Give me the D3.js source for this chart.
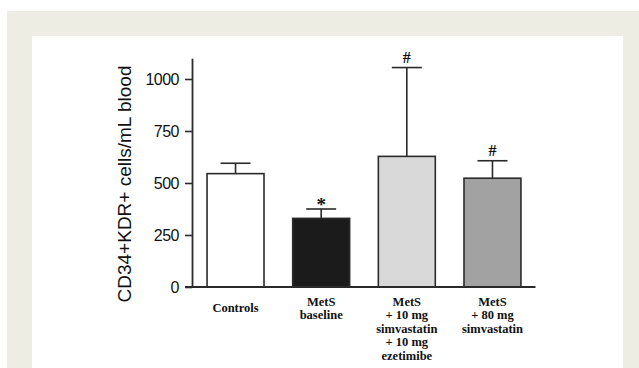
<!DOCTYPE html>
<html>
<head>
<meta charset="utf-8">
<script src="https://cdn.jsdelivr.net/npm/d3@7"></script>
<style>
  body { margin: 0; background: #fff; }
  svg { display: block; }
</style>
</head>
<body>
<svg id="chart" width="639" height="368"></svg>
<script>
// ---------- dades ----------
var grups = ["Controls", "MetS baseline", "MetS simva10 eze10", "MetS simva80"];
var etiquetes = [
    ["Controls"],
    ["MetS", "baseline"],
    ["MetS", "+ 10 mg", "simvastatin", "+ 10 mg", "ezetimibe"],
    ["MetS", "+ 80 mg", "simvastatin"]
];
var mitjanes = [545, 330, 628, 523];
var errors = [50, 45, 427, 84];
var signes = ["", "*", "#", "#"];
var colors = ["#ffffff", "#1b1b1b", "#d9d9d9", "#a2a2a2"];
var ticksY = [0, 250, 500, 750, 1000];

// ---------- fons ----------
var svg = d3.select("#chart");
svg.append("rect").attr("x", 7).attr("y", 11).attr("width", 632).attr("height", 357).style("fill", "#eeede3");
svg.append("rect").attr("x", 32).attr("y", 36).attr("width", 591).attr("height", 332).style("fill", "#ffffff");

// ---------- escales ----------
var x = d3.scaleBand().domain(grups).range([192.5, 535.5]).paddingInner(0.335).paddingOuter(0.17);
var y = d3.scaleLinear().domain([0, 1100]).range([287, 58.2]);
var tinta = "#2a2a2a";

// barres
svg.selectAll("rect.barra").data(grups).enter().append("rect")
    .attr("class", "barra")
    .attr("x", d => x(d))
    .attr("y", (d, i) => y(mitjanes[i]))
    .attr("width", x.bandwidth())
    .attr("height", (d, i) => y(0) - y(mitjanes[i]))
    .style("fill", (d, i) => colors[i])
    .style("stroke", tinta)
    .style("stroke-width", 1.6);

// barres d'error
var err = svg.selectAll("g.err").data(grups).enter().append("g").attr("class", "err");
err.append("line")
    .attr("x1", d => x(d) + x.bandwidth() / 2)
    .attr("x2", d => x(d) + x.bandwidth() / 2)
    .attr("y1", (d, i) => y(mitjanes[i]))
    .attr("y2", (d, i) => y(mitjanes[i] + errors[i]))
    .style("stroke", tinta).style("stroke-width", 1.6);
err.append("line")
    .attr("x1", d => x(d) + x.bandwidth() / 2 - 15)
    .attr("x2", d => x(d) + x.bandwidth() / 2 + 15)
    .attr("y1", (d, i) => y(mitjanes[i] + errors[i]))
    .attr("y2", (d, i) => y(mitjanes[i] + errors[i]))
    .style("stroke", tinta).style("stroke-width", 1.6);

// signes de significacio
err.append("text")
    .attr("x", d => x(d) + x.bandwidth() / 2)
    .attr("y", (d, i) => y(mitjanes[i] + errors[i]) + (signes[i] == "*" ? 2 : -5))
    .attr("text-anchor", "middle")
    .style("font-family", "'Liberation Serif', 'Times New Roman', serif")
    .style("font-weight", "bold")
    .style("font-size", (d, i) => signes[i] == "*" ? "19px" : "16px")
    .style("fill", "#111")
    .text((d, i) => signes[i]);

// eix Y
var eixY = svg.append("g")
    .attr("transform", "translate(192,0)")
    .call(d3.axisLeft(y).tickValues(ticksY).tickFormat(d3.format("d")).tickSize(7).tickSizeOuter(0).tickPadding(6));
eixY.select(".domain").style("stroke", tinta).style("stroke-width", 1.8);
eixY.selectAll(".tick line").style("stroke", tinta).style("stroke-width", 1.6);
eixY.selectAll(".tick text")
    .style("font-family", "'Liberation Sans', Arial, sans-serif")
    .style("font-size", "16px")
    .style("letter-spacing", "-0.5px")
    .style("fill", "#111");

// eix X (linia base)
svg.append("line")
    .attr("x1", 185).attr("x2", x.range()[1])
    .attr("y1", y(0)).attr("y2", y(0))
    .style("stroke", tinta).style("stroke-width", 1.8);

// etiquetes de categoria
var lin = 13.6;
svg.selectAll("text.cat").data(grups).enter().append("text")
    .attr("class", "cat")
    .attr("text-anchor", "middle")
    .style("font-family", "'Liberation Serif', 'Times New Roman', serif")
    .style("font-weight", "bold")
    .style("font-size", "12.5px")
    .style("fill", "#111")
    .each(function (d, i) {
        var t = d3.select(this);
        var y0 = etiquetes[i].length == 1 ? 305.5 + lin / 2 : 305.5;
        etiquetes[i].forEach(function (l, k) {
            t.append("tspan")
                .attr("x", x(d) + x.bandwidth() / 2)
                .attr("y", y0 + k * lin)
                .text(l);
        });
    });

// titol eix Y
svg.append("text")
    .attr("transform", "translate(131,184) rotate(-90)")
    .attr("text-anchor", "middle")
    .style("font-family", "'Liberation Sans', Arial, sans-serif")
    .style("font-size", "19px")
    .style("fill", "#111")
    .text("CD34+KDR+ cells/mL blood");
</script>
</body>
</html>
